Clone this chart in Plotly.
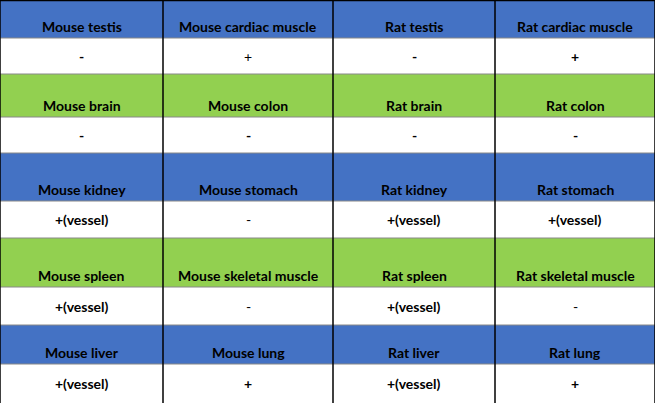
import plotly.graph_objects as go

headers = [
    ["Mouse testis", "Mouse cardiac muscle", "Rat testis", "Rat cardiac muscle"],
    ["Mouse brain", "Mouse colon", "Rat brain", "Rat colon"],
    ["Mouse kidney", "Mouse stomach", "Rat kidney", "Rat stomach"],
    ["Mouse spleen", "Mouse skeletal muscle", "Rat spleen", "Rat skeletal muscle"],
    ["Mouse liver", "Mouse lung", "Rat liver", "Rat lung"],
]
values = [
    ["-", "+", "-", "+"],
    ["-", "-", "-", "-"],
    ["+(vessel)", "-", "+(vessel)", "+(vessel)"],
    ["+(vessel)", "-", "+(vessel)", "-"],
    ["+(vessel)", "+", "+(vessel)", "+"],
]
value_bold = [
    [True, False, True, True],
    [True, True, True, True],
    [True, False, True, True],
    [True, False, True, False],
    [True, True, True, True],
]
header_colors = ["#4472C4", "#92D050", "#4472C4", "#92D050", "#4472C4"]

col_edges = [0, 163, 333, 495, 655]
row_edges = [0, 38, 74, 117, 153, 201, 238, 287, 325, 364, 403]

fig = go.Figure()
shapes, ann = [], []
font = "Lato, Carlito, 'Open Sans', sans-serif"
for r in range(5):
    y0, y1, y2 = row_edges[2*r], row_edges[2*r+1], row_edges[2*r+2]
    shapes.append(dict(type="rect", x0=0, x1=655, y0=y0, y1=y1, fillcolor=header_colors[r], line_width=0, layer="below"))
    shapes.append(dict(type="rect", x0=0, x1=655, y0=y1, y1=y2, fillcolor="white", line_width=0, layer="below"))
    for c in range(4):
        xm = (col_edges[c] + col_edges[c+1]) / 2
        ann.append(dict(x=xm, y=y1 - 1, text="<b>%s</b>" % headers[r][c], showarrow=False,
                        yanchor="bottom", font=dict(size=14, color="black", family=font)))
        t = values[r][c]
        ann.append(dict(x=xm, y=(y1 + y2) / 2, text=("<b>%s</b>" % t) if value_bold[r][c] else t,
                        showarrow=False, font=dict(size=14, color="black", family=font)))
for ye in row_edges[1:-1]:
    shapes.append(dict(type="line", x0=0, x1=655, y0=ye, y1=ye, line=dict(color="#888888", width=1)))
for xe in col_edges:
    shapes.append(dict(type="line", x0=xe, x1=xe, y0=0, y1=403, line=dict(color="black", width=1.5)))
shapes.append(dict(type="line", x0=0, x1=655, y0=0.5, y1=0.5, line=dict(color="black", width=1.5)))

fig.add_trace(go.Scatter(x=[0, 655], y=[0, 403], mode="markers", marker=dict(opacity=0), hoverinfo="skip"))
fig.update_layout(width=655, height=403, margin=dict(l=0, r=0, t=0, b=0), showlegend=False,
                  plot_bgcolor="white", paper_bgcolor="white", shapes=shapes, annotations=ann,
                  xaxis=dict(range=[0, 655], visible=False, fixedrange=True),
                  yaxis=dict(range=[403, 0], visible=False, fixedrange=True))
fig.write_html("out.html", config={"displayModeBar": False},
               post_script="document.body.style.margin='0';document.body.style.overflow='hidden';")
